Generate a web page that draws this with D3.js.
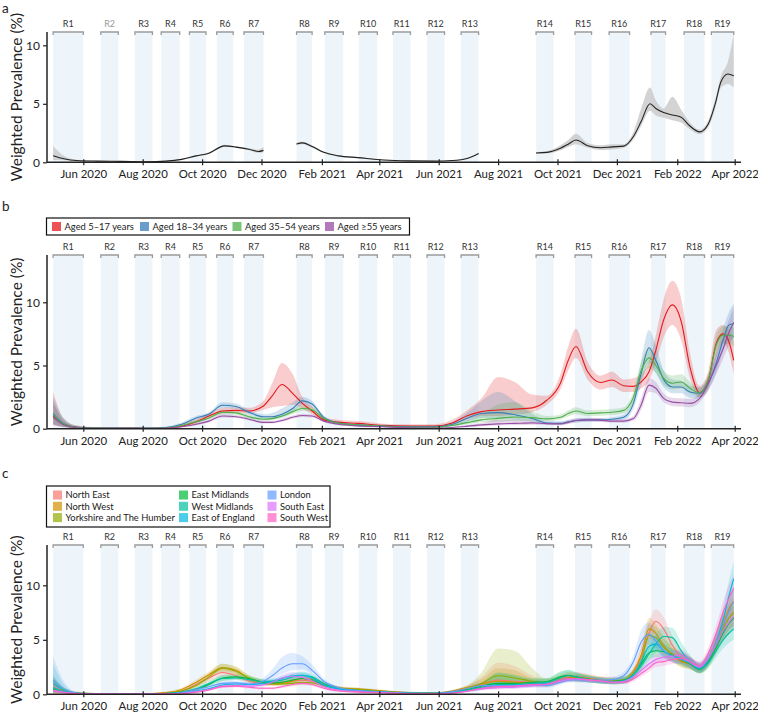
<!DOCTYPE html>
<html><head><meta charset="utf-8">
<script src="https://cdn.jsdelivr.net/npm/d3@7"></script>
<style>body{margin:0;background:#fff;font-family:Lato,"Liberation Sans",sans-serif;}</style>
</head><body>
<script>
// ---------- DATA ----------
const roundNames = ["R1","R2","R3","R4","R5","R6","R7","R8","R9","R10","R11","R12","R13","R14","R15","R16","R17","R18","R19"];
const roundStart = ["2020-05-01","2020-06-19","2020-07-24","2020-08-20","2020-09-18","2020-10-16","2020-11-13","2021-01-06","2021-02-04","2021-03-11","2021-04-15","2021-05-20","2021-06-24","2021-09-09","2021-10-19","2021-11-23","2022-01-05","2022-02-08","2022-03-08"];
const roundEnd   = ["2020-06-01","2020-07-07","2020-08-11","2020-09-08","2020-10-05","2020-11-02","2020-12-03","2021-01-22","2021-02-23","2021-03-30","2021-05-03","2021-06-07","2021-07-12","2021-09-27","2021-11-05","2021-12-14","2022-01-20","2022-03-01","2022-03-31"];
const xTickLabels = ["Jun 2020","Aug 2020","Oct 2020","Dec 2020","Feb 2021","Apr 2021","Jun 2021","Aug 2021","Oct 2021","Dec 2021","Feb 2022","Apr 2022"];
const yTicks = [0,5,10];

// Panel a (overall)
const aDates = ["2020-05-01","2020-05-12","2020-05-25","2020-06-15","2020-07-10","2020-08-05","2020-08-25","2020-09-10","2020-09-25","2020-10-08","2020-10-24","2020-11-05","2020-11-18","2020-11-28","2020-12-03","2020-12-20","2021-01-06","2021-01-12","2021-01-22","2021-02-03","2021-02-18","2021-03-10","2021-04-05","2021-05-01","2021-05-28","2021-06-15","2021-07-01","2021-07-12","2021-08-10","2021-09-09","2021-09-20","2021-10-04","2021-10-12","2021-10-20","2021-11-01","2021-11-14","2021-11-26","2021-12-08","2021-12-18","2021-12-26","2022-01-04","2022-01-10","2022-01-18","2022-01-27","2022-02-05","2022-02-14","2022-02-24","2022-03-05","2022-03-12","2022-03-18","2022-03-25","2022-03-31"];
const aMid = [0.56,0.3,0.15,0.1,0.08,0.05,0.1,0.25,0.55,0.78,1.4,1.3,1.12,0.92,1.02,null,1.56,1.66,1.35,0.85,0.55,0.4,0.2,0.12,0.1,0.15,0.35,0.75,null,0.8,0.85,1.2,1.55,1.9,1.42,1.25,1.32,1.38,2.2,3.5,5.0,4.6,4.25,4.05,3.85,3.1,2.6,3.3,5.0,6.9,7.55,7.4];
const aLo  = [0.2,0.18,0.1,0.06,0.05,0.03,0.07,0.2,0.48,0.7,1.3,1.22,1.02,0.8,0.85,null,1.45,1.55,1.25,0.78,0.5,0.35,0.17,0.09,0.08,0.12,0.3,0.68,null,0.72,0.75,1.0,1.3,1.55,1.25,1.05,1.1,1.22,1.95,3.1,4.4,4.0,3.8,3.6,3.4,2.8,2.4,3.0,4.6,6.4,6.7,6.4];
const aHi  = [1.4,0.55,0.22,0.14,0.1,0.07,0.13,0.3,0.62,0.86,1.5,1.38,1.22,1.08,1.32,null,1.68,1.78,1.46,0.92,0.6,0.45,0.24,0.15,0.12,0.18,0.4,0.82,null,0.88,0.95,1.45,1.9,2.45,1.65,1.45,1.55,1.55,2.6,4.6,6.4,5.3,4.6,5.6,4.5,3.4,2.8,3.6,5.4,7.4,8.6,11.0];

// Common grid for panels b and c
const gDates = ["2020-05-01","2020-05-12","2020-05-25","2020-06-15","2020-07-10","2020-08-05","2020-08-25","2020-09-10","2020-09-25","2020-10-08","2020-10-22","2020-11-05","2020-11-18","2020-12-03","2020-12-12","2020-12-22","2021-01-02","2021-01-12","2021-01-22","2021-02-03","2021-02-18","2021-03-10","2021-04-05","2021-05-01","2021-05-28","2021-06-15","2021-07-01","2021-07-15","2021-08-01","2021-08-18","2021-09-05","2021-09-20","2021-10-04","2021-10-12","2021-10-20","2021-11-01","2021-11-14","2021-11-26","2021-12-08","2021-12-18","2021-12-26","2022-01-03","2022-01-10","2022-01-18","2022-01-27","2022-02-05","2022-02-14","2022-02-24","2022-03-05","2022-03-13","2022-03-20","2022-03-26","2022-03-31"];

// Panel b (age groups)
const ageNames = ["Aged 5\u201317 years","Aged 18\u201334 years","Aged 35\u201354 years","Aged \u226555 years"];
const ageColors = ["#E41A1C","#377EB8","#4DAF4A","#984EA3"];
const age517Mid = [1.0,0.35,0.12,0.06,0.05,0.04,0.06,0.2,0.55,1.0,1.4,1.45,1.4,1.8,2.6,3.5,2.8,2.0,1.4,0.7,0.52,0.42,0.26,0.2,0.2,0.45,1.05,1.35,1.48,1.55,1.65,2.25,3.6,5.4,6.5,4.5,3.65,3.85,3.4,3.35,3.7,4.5,6.2,8.6,9.8,8.5,4.9,2.85,3.85,6.75,7.5,6.9,5.4];
const age517Lo  = [0.3,0.15,0.05,0.02,0.02,0.02,0.03,0.12,0.4,0.8,1.2,1.25,1.2,1.5,1.7,1.8,1.9,1.6,1.15,0.55,0.4,0.3,0.18,0.1,0.1,0.3,0.75,1.0,1.0,1.1,1.3,1.9,3.1,4.6,5.6,3.9,3.1,3.3,2.9,2.9,3.2,3.8,5.2,7.2,8.2,7.0,4.0,2.5,3.2,5.6,6.8,6.0,4.3];
const age517Hi  = [2.9,0.8,0.25,0.12,0.1,0.08,0.12,0.35,0.75,1.25,1.65,1.7,1.65,2.2,3.6,5.2,4.3,2.5,1.75,0.9,0.7,0.6,0.4,0.35,0.35,0.7,1.5,2.4,4.1,3.7,2.7,2.6,4.3,6.5,7.9,5.3,4.2,4.5,3.9,4.0,4.3,5.3,7.4,10.2,11.7,10.3,6.0,3.4,4.6,7.8,8.2,7.8,6.9];
const age1834Mid = [1.2,0.4,0.12,0.06,0.05,0.05,0.1,0.35,0.85,1.15,1.85,1.75,1.3,0.95,0.95,1.15,1.6,2.2,1.95,0.9,0.45,0.3,0.2,0.15,0.15,0.35,0.85,1.2,1.27,1.1,0.8,0.45,0.42,0.55,0.65,0.7,0.7,0.75,0.9,2.0,4.4,6.4,5.4,3.9,3.3,3.3,2.9,2.8,3.6,5.2,7.0,8.2,8.3];
const age1834Lo  = [0.4,0.15,0.05,0.02,0.02,0.02,0.05,0.25,0.7,1.0,1.65,1.55,1.15,0.8,0.75,0.9,1.3,1.9,1.7,0.75,0.35,0.22,0.14,0.08,0.08,0.22,0.6,0.85,0.8,0.7,0.55,0.32,0.3,0.42,0.5,0.55,0.55,0.6,0.72,1.6,3.5,5.2,4.4,3.3,2.8,2.8,2.45,2.4,3.0,4.4,6.1,7.0,7.1];
const age1834Hi  = [2.5,0.8,0.25,0.12,0.1,0.1,0.18,0.5,1.0,1.3,2.1,2.0,1.5,1.15,1.25,1.6,2.1,2.5,2.2,1.05,0.55,0.4,0.28,0.25,0.25,0.55,1.3,2.2,2.9,2.2,1.2,0.6,0.58,0.7,0.8,0.85,0.85,0.9,1.1,2.5,5.4,7.8,6.6,4.6,3.9,3.8,3.4,3.3,4.1,5.9,7.9,9.2,9.9];
const age3554Mid = [1.1,0.35,0.1,0.05,0.04,0.04,0.08,0.25,0.55,0.85,1.3,1.25,0.95,0.75,0.8,1.0,1.35,1.6,1.5,0.8,0.42,0.3,0.2,0.12,0.12,0.25,0.5,0.7,0.82,0.92,0.88,0.78,0.9,1.2,1.4,1.2,1.25,1.3,1.45,2.5,4.6,5.6,5.0,4.0,3.6,3.7,3.2,2.85,3.9,6.6,7.4,7.4,7.3];
const age3554Lo  = [0.35,0.12,0.04,0.02,0.02,0.02,0.04,0.18,0.45,0.72,1.15,1.1,0.82,0.63,0.67,0.85,1.15,1.4,1.32,0.68,0.34,0.22,0.14,0.08,0.08,0.17,0.38,0.52,0.55,0.6,0.62,0.6,0.72,0.98,1.15,0.98,1.02,1.08,1.22,2.1,3.9,4.8,4.4,3.5,3.1,3.2,2.8,2.5,3.4,5.9,6.7,6.7,6.5];
const age3554Hi  = [2.0,0.7,0.2,0.1,0.08,0.08,0.14,0.35,0.68,1.0,1.48,1.42,1.1,0.9,0.95,1.18,1.58,1.82,1.72,0.94,0.52,0.38,0.27,0.18,0.18,0.36,0.7,1.2,1.9,2.1,1.4,1.0,1.1,1.45,1.7,1.45,1.5,1.55,1.7,2.95,5.3,6.4,5.7,4.6,4.2,4.3,3.7,3.2,4.4,7.3,8.1,8.1,8.0];
const age55Mid = [0.9,0.3,0.08,0.04,0.03,0.03,0.05,0.15,0.35,0.6,1.0,0.95,0.75,0.5,0.5,0.65,0.9,1.05,1.0,0.6,0.35,0.22,0.15,0.08,0.06,0.1,0.2,0.3,0.38,0.42,0.46,0.4,0.38,0.5,0.65,0.7,0.68,0.6,0.6,0.8,1.9,3.45,3.2,2.4,2.1,2.05,2.0,2.4,3.6,5.0,6.3,7.6,8.4];
const age55Lo  = [0.3,0.1,0.03,0.01,0.01,0.01,0.02,0.1,0.28,0.5,0.88,0.84,0.65,0.42,0.42,0.55,0.78,0.93,0.88,0.52,0.28,0.17,0.1,0.05,0.04,0.06,0.14,0.2,0.26,0.28,0.32,0.3,0.28,0.38,0.5,0.56,0.55,0.48,0.48,0.62,1.5,2.9,2.8,2.1,1.8,1.75,1.7,2.1,3.1,4.3,5.5,6.6,7.2];
const age55Hi  = [2.2,0.6,0.16,0.08,0.06,0.06,0.1,0.22,0.45,0.72,1.14,1.08,0.87,0.6,0.6,0.78,1.04,1.18,1.14,0.7,0.44,0.3,0.22,0.14,0.12,0.16,0.3,0.45,0.7,0.7,0.65,0.52,0.5,0.64,0.82,0.86,0.83,0.74,0.74,1.0,2.4,4.0,3.7,2.8,2.45,2.4,2.35,2.8,4.2,5.8,7.2,8.6,9.6];

// Panel c (regions)
const regionNames = ["North East","North West","Yorkshire and The Humber","East Midlands","West Midlands","East of England","London","South East","South West"];
const regionColors = ["#F8766D","#D39200","#93AA00","#00BA38","#00C19F","#00B9E3","#619CFF","#DB72FB","#FF61C3"];
const neMid = [0.5,0.25,0.1,0.06,0.05,0.05,0.1,0.3,0.9,1.5,2.0,1.7,1.2,1.0,1.0,1.1,1.2,1.3,1.2,0.85,0.55,0.4,0.25,0.12,0.1,0.2,0.5,0.9,1.3,1.2,1.1,1.0,1.4,1.6,1.6,1.5,1.3,1.25,1.3,1.9,3.5,5.6,6.7,6.0,4.5,3.4,2.9,2.4,3.3,4.8,6.2,7.0,7.5];
const neLo  = [0.1,0.1,0.04,0.02,0.02,0.02,0.04,0.18,0.7,1.2,1.65,1.4,0.95,0.8,0.78,0.85,0.95,1.05,0.95,0.65,0.4,0.28,0.16,0.06,0.05,0.1,0.32,0.6,0.85,0.8,0.75,0.72,1.05,1.2,1.2,1.15,1.0,0.95,1.0,1.45,2.8,4.6,5.7,5.0,3.7,2.8,2.4,2.0,2.7,4.0,5.2,5.9,6.3];
const neHi  = [1.5,0.6,0.22,0.12,0.1,0.1,0.2,0.45,1.15,1.85,2.4,2.05,1.5,1.25,1.25,1.4,1.5,1.6,1.5,1.1,0.72,0.56,0.38,0.24,0.2,0.34,0.75,1.6,2.9,2.6,1.7,1.35,1.8,2.05,2.05,1.9,1.65,1.6,1.65,2.4,4.3,6.7,7.8,7.1,5.4,4.1,3.5,2.9,3.9,5.7,7.3,8.2,8.8];
const nwMid = [0.6,0.3,0.12,0.07,0.05,0.05,0.15,0.45,1.1,1.8,2.45,2.2,1.45,1.0,0.95,1.0,1.2,1.45,1.4,0.95,0.6,0.5,0.3,0.15,0.12,0.3,0.65,0.95,1.2,1.1,1.0,0.95,1.3,1.5,1.55,1.45,1.3,1.2,1.3,2.1,3.6,6.0,5.6,4.5,3.6,3.0,2.8,2.3,3.2,4.9,6.5,7.8,8.5];
const nwLo  = [0.2,0.12,0.05,0.03,0.02,0.02,0.08,0.32,0.9,1.55,2.15,1.9,1.25,0.85,0.8,0.85,1.0,1.25,1.2,0.8,0.5,0.4,0.22,0.1,0.08,0.2,0.5,0.75,0.95,0.88,0.82,0.78,1.1,1.28,1.32,1.22,1.1,1.0,1.1,1.75,3.0,5.1,4.8,3.8,3.0,2.5,2.3,1.95,2.7,4.2,5.6,6.7,7.2];
const nwHi  = [1.6,0.6,0.25,0.13,0.1,0.1,0.25,0.6,1.35,2.1,2.8,2.55,1.7,1.2,1.12,1.2,1.45,1.7,1.65,1.12,0.75,0.62,0.4,0.24,0.2,0.42,0.85,1.4,2.4,2.2,1.45,1.15,1.55,1.75,1.8,1.7,1.52,1.42,1.52,2.5,4.3,7.0,6.5,5.3,4.3,3.6,3.3,2.7,3.8,5.7,7.5,9.0,10.0];
const yhMid = [0.4,0.2,0.1,0.06,0.05,0.05,0.1,0.3,0.8,1.6,2.4,2.1,1.5,1.1,1.0,0.95,1.0,1.1,1.05,0.8,0.55,0.45,0.28,0.13,0.1,0.22,0.55,1.0,1.7,1.5,1.2,1.0,1.3,1.5,1.5,1.4,1.25,1.2,1.25,1.9,3.0,5.4,5.2,4.3,3.7,3.1,2.8,2.3,3.1,4.6,6.0,7.0,7.5];
const yhLo  = [0.08,0.08,0.04,0.02,0.02,0.02,0.04,0.18,0.6,1.3,2.05,1.8,1.25,0.9,0.8,0.76,0.8,0.88,0.84,0.62,0.4,0.32,0.18,0.06,0.05,0.12,0.35,0.6,0.9,0.8,0.75,0.7,1.0,1.18,1.18,1.1,0.98,0.94,0.98,1.5,2.4,4.5,4.3,3.5,3.0,2.5,2.3,1.9,2.5,3.8,5.0,5.9,6.2];
const yhHi  = [1.3,0.5,0.2,0.12,0.1,0.1,0.2,0.45,1.05,1.95,2.8,2.45,1.8,1.35,1.25,1.18,1.25,1.35,1.3,1.02,0.72,0.6,0.4,0.24,0.2,0.38,0.85,2.0,4.2,4.0,2.4,1.45,1.7,1.9,1.9,1.78,1.6,1.52,1.58,2.4,3.7,6.4,6.2,5.1,4.5,3.8,3.4,2.8,3.8,5.5,7.2,8.3,9.0];
const emMid = [0.5,0.25,0.08,0.05,0.04,0.04,0.08,0.2,0.45,0.9,1.5,1.6,1.45,1.1,1.05,1.1,1.3,1.45,1.3,0.85,0.5,0.35,0.22,0.12,0.1,0.2,0.45,0.75,1.0,1.0,1.1,1.15,1.6,1.75,1.6,1.4,1.25,1.2,1.3,1.8,2.8,3.8,4.0,3.9,3.6,3.2,2.8,2.3,3.0,4.3,5.6,6.5,7.0];
const emLo  = [0.15,0.1,0.03,0.02,0.02,0.02,0.03,0.12,0.32,0.72,1.25,1.35,1.22,0.9,0.85,0.9,1.08,1.22,1.08,0.68,0.38,0.25,0.14,0.06,0.05,0.12,0.3,0.5,0.65,0.68,0.8,0.88,1.25,1.35,1.25,1.1,0.98,0.95,1.02,1.45,2.3,3.2,3.4,3.3,3.05,2.7,2.35,1.95,2.55,3.7,4.8,5.5,5.9];
const emHi  = [1.5,0.6,0.18,0.1,0.08,0.08,0.15,0.32,0.6,1.1,1.78,1.88,1.7,1.32,1.28,1.32,1.55,1.7,1.55,1.05,0.65,0.48,0.32,0.22,0.18,0.32,0.65,1.1,2.0,1.8,1.5,1.5,2.1,2.2,2.0,1.75,1.55,1.48,1.6,2.2,3.4,4.5,4.7,4.6,4.25,3.75,3.3,2.7,3.5,5.0,6.5,7.6,8.2];
const wmMid = [1.0,0.4,0.1,0.05,0.04,0.04,0.08,0.2,0.5,1.0,1.45,1.5,1.35,1.15,1.2,1.3,1.6,1.75,1.6,1.0,0.55,0.35,0.22,0.12,0.1,0.2,0.4,0.65,0.9,0.9,1.0,1.1,1.5,1.7,1.6,1.4,1.25,1.15,1.25,1.8,2.6,3.7,4.6,5.3,5.2,4.0,3.0,2.3,2.9,4.0,5.0,5.6,6.0];
const wmLo  = [0.3,0.15,0.04,0.02,0.02,0.02,0.03,0.12,0.36,0.8,1.22,1.28,1.14,0.95,1.0,1.08,1.35,1.5,1.35,0.82,0.42,0.25,0.14,0.06,0.05,0.12,0.26,0.45,0.62,0.65,0.75,0.85,1.15,1.3,1.22,1.1,0.98,0.9,0.98,1.45,2.1,3.0,3.8,4.5,4.4,3.3,2.5,1.9,2.4,3.4,4.2,4.7,5.0];
const wmHi  = [2.8,0.9,0.2,0.1,0.08,0.08,0.15,0.32,0.65,1.22,1.7,1.75,1.58,1.38,1.42,1.55,1.88,2.02,1.86,1.2,0.7,0.47,0.32,0.22,0.18,0.3,0.58,0.95,1.9,1.7,1.35,1.42,2.0,2.25,2.05,1.75,1.55,1.42,1.55,2.2,3.2,4.5,5.5,6.2,6.1,4.8,3.6,2.75,3.4,4.7,5.9,6.6,7.2];
const eeMid = [0.6,0.25,0.08,0.05,0.04,0.04,0.06,0.1,0.3,0.5,0.85,0.95,0.9,1.0,1.2,1.45,1.7,1.75,1.5,0.85,0.5,0.3,0.2,0.1,0.08,0.15,0.35,0.55,0.8,0.85,0.95,1.0,1.3,1.45,1.45,1.35,1.2,1.1,1.2,1.8,3.0,4.4,4.6,4.0,3.5,3.3,2.9,2.4,3.2,4.8,6.8,9.0,10.6];
const eeLo  = [0.15,0.1,0.03,0.02,0.02,0.02,0.03,0.05,0.2,0.38,0.7,0.8,0.76,0.85,1.02,1.24,1.45,1.5,1.28,0.7,0.38,0.22,0.13,0.05,0.04,0.08,0.24,0.4,0.58,0.63,0.72,0.78,1.05,1.18,1.18,1.1,0.98,0.9,0.98,1.48,2.5,3.7,3.9,3.4,2.95,2.8,2.45,2.0,2.7,4.1,5.8,7.7,9.0];
const eeHi  = [1.8,0.6,0.18,0.1,0.08,0.08,0.12,0.18,0.42,0.64,1.02,1.12,1.06,1.18,1.4,1.7,1.98,2.02,1.75,1.02,0.64,0.42,0.3,0.2,0.16,0.25,0.5,0.75,1.1,1.12,1.22,1.25,1.6,1.78,1.75,1.62,1.45,1.32,1.45,2.15,3.6,5.2,5.4,4.7,4.1,3.9,3.4,2.85,3.8,5.6,7.9,10.4,12.2];
const lonMid = [1.3,0.5,0.12,0.06,0.05,0.05,0.08,0.15,0.45,0.7,1.0,1.05,0.95,1.2,1.7,2.4,2.8,2.8,2.2,1.2,0.6,0.35,0.22,0.12,0.1,0.25,0.55,0.8,0.8,0.8,0.85,0.8,1.1,1.3,1.35,1.3,1.3,1.35,1.7,3.0,4.8,5.5,4.9,4.0,3.5,3.2,2.9,2.5,3.3,4.8,6.3,7.6,8.5];
const lonLo  = [0.2,0.15,0.04,0.02,0.02,0.02,0.04,0.08,0.32,0.55,0.85,0.9,0.8,1.0,1.35,1.85,2.2,2.3,1.85,1.0,0.48,0.26,0.15,0.06,0.05,0.15,0.38,0.58,0.56,0.56,0.62,0.6,0.88,1.05,1.1,1.05,1.05,1.1,1.4,2.5,4.0,4.6,4.1,3.35,2.9,2.7,2.45,2.1,2.8,4.1,5.4,6.5,7.2];
const lonHi  = [3.5,1.2,0.25,0.12,0.1,0.1,0.15,0.25,0.6,0.85,1.18,1.22,1.12,1.5,2.3,3.4,3.8,3.5,2.7,1.45,0.75,0.46,0.3,0.2,0.17,0.38,0.75,1.05,1.1,1.08,1.12,1.05,1.35,1.58,1.62,1.58,1.58,1.62,2.05,3.6,5.9,6.6,5.8,4.7,4.15,3.75,3.4,2.95,3.9,5.6,7.3,8.8,9.9];
const seMid = [0.4,0.2,0.07,0.04,0.03,0.03,0.05,0.1,0.25,0.45,0.75,0.8,0.75,0.85,1.1,1.5,1.65,1.55,1.25,0.7,0.4,0.25,0.15,0.08,0.06,0.12,0.3,0.5,0.6,0.65,0.8,0.9,1.2,1.35,1.4,1.3,1.2,1.1,1.2,1.6,2.2,2.8,3.2,3.4,3.5,3.6,3.0,2.5,3.3,4.6,5.8,6.6,7.1];
const seLo  = [0.1,0.08,0.03,0.01,0.01,0.01,0.02,0.05,0.16,0.35,0.63,0.68,0.64,0.72,0.92,1.25,1.38,1.3,1.05,0.58,0.32,0.18,0.1,0.04,0.03,0.06,0.2,0.36,0.44,0.48,0.62,0.72,1.0,1.15,1.2,1.12,1.02,0.94,1.02,1.36,1.9,2.45,2.8,3.0,3.1,3.15,2.6,2.15,2.85,4.0,5.1,5.8,6.2];
const seHi  = [1.2,0.5,0.15,0.08,0.06,0.06,0.1,0.18,0.36,0.56,0.88,0.94,0.88,1.0,1.3,1.8,2.05,1.85,1.5,0.85,0.5,0.34,0.22,0.15,0.12,0.2,0.42,0.68,0.82,0.85,1.0,1.1,1.42,1.58,1.62,1.5,1.4,1.28,1.4,1.85,2.55,3.2,3.65,3.85,3.95,4.1,3.45,2.9,3.8,5.3,6.6,7.5,8.1];
const swMid = [0.3,0.15,0.05,0.03,0.03,0.03,0.04,0.05,0.2,0.4,0.7,0.75,0.65,0.55,0.55,0.7,0.9,1.0,0.9,0.55,0.3,0.2,0.12,0.06,0.05,0.1,0.3,0.55,0.7,0.75,0.9,0.95,1.3,1.45,1.45,1.35,1.25,1.1,1.1,1.4,1.9,2.4,2.9,3.0,3.2,3.3,3.0,2.6,3.8,5.6,7.5,8.8,9.7];
const swLo  = [0.05,0.05,0.02,0.01,0.01,0.01,0.02,0.02,0.12,0.3,0.58,0.62,0.53,0.45,0.45,0.57,0.75,0.84,0.75,0.45,0.22,0.14,0.08,0.03,0.02,0.05,0.2,0.4,0.52,0.56,0.7,0.76,1.08,1.22,1.22,1.14,1.05,0.92,0.92,1.18,1.6,2.05,2.5,2.6,2.78,2.85,2.6,2.25,3.3,4.9,6.6,7.8,8.6];
const swHi  = [1.0,0.4,0.12,0.07,0.06,0.06,0.08,0.1,0.3,0.52,0.84,0.9,0.78,0.66,0.66,0.84,1.06,1.17,1.06,0.66,0.4,0.28,0.18,0.12,0.1,0.16,0.42,0.72,0.9,0.95,1.12,1.16,1.55,1.7,1.7,1.58,1.47,1.3,1.3,1.65,2.22,2.8,3.35,3.45,3.65,3.8,3.45,3.0,4.35,6.35,8.5,10.0,11.0];

// ---------- BUILD ----------
const FONT = "Lato, 'Liberation Sans', sans-serif";
const parse = d3.utcParse("%Y-%m-%d");
const parseTick = d3.utcParse("%b %Y");
const W = 758, H = 714;
const svg = d3.select("body").append("svg").attr("width", W).attr("height", H)
  .style("font-family", FONT);

const x = d3.scaleUtc().domain([parse("2020-06-01"), parse("2022-04-01")]).range([83.3, 734.7]);
const AX_LEFT = 47, AX_RIGHT = 741;
const xTicks = xTickLabels.map(parseTick);

const panels = [
  {key:"a", label:"a", top:32, y0:162.3, y10:45.3, dmax:11, labelY:13},
  {key:"b", label:"b", top:255, y0:428.7, y10:302.3, dmax:13.7, labelY:211},
  {key:"c", label:"c", top:545, y0:694.3, y10:585.3, dmax:13.7, labelY:478}
];

const ageSeries = [
  {mid:age517Mid, lo:age517Lo, hi:age517Hi},
  {mid:age1834Mid, lo:age1834Lo, hi:age1834Hi},
  {mid:age3554Mid, lo:age3554Lo, hi:age3554Hi},
  {mid:age55Mid, lo:age55Lo, hi:age55Hi}
].map((s,i)=>({...s, color:ageColors[i], name:ageNames[i]}));

const regionSeries = [
  {mid:neMid, lo:neLo, hi:neHi},{mid:nwMid, lo:nwLo, hi:nwHi},{mid:yhMid, lo:yhLo, hi:yhHi},
  {mid:emMid, lo:emLo, hi:emHi},{mid:wmMid, lo:wmLo, hi:wmHi},{mid:eeMid, lo:eeLo, hi:eeHi},
  {mid:lonMid, lo:lonLo, hi:lonHi},{mid:seMid, lo:seLo, hi:seHi},{mid:swMid, lo:swLo, hi:swHi}
].map((s,i)=>({...s, color:regionColors[i], name:regionNames[i]}));

function toPts(dates, s){
  return dates.map((d,i)=>({t:parse(d), m:s.mid[i], lo:s.lo[i], hi:s.hi[i]}));
}

panels.forEach(p=>{
  const y = d3.scaleLinear().domain([0,10]).range([p.y0, p.y10]);
  const g = svg.append("g");

  roundNames.forEach((r,i)=>{
    const x1 = x(parse(roundStart[i])), x2 = x(parse(roundEnd[i]));
    g.append("rect").attr("x",x1).attr("y",p.top).attr("width",x2-x1).attr("height",p.y0-p.top)
      .attr("fill","#eef5fa");
    g.append("path").attr("d",`M${x1},${p.top+3}V${p.top}H${x2}V${p.top+3}`)
      .attr("fill","none").attr("stroke","#9a9a9a").attr("stroke-width",1.3);
    g.append("text").attr("x",(x1+x2)/2).attr("y",p.top-5).attr("text-anchor","middle")
      .attr("font-size",9).attr("fill",(p.key==="a"&&r==="R2")?"#999":"#333").text(r);
  });

  const clipId = "clip"+p.key;
  svg.append("clipPath").attr("id",clipId).append("rect")
    .attr("x",AX_LEFT).attr("y",p.top).attr("width",AX_RIGHT-AX_LEFT).attr("height",p.y0-p.top);
  const dg = g.append("g").attr("clip-path",`url(#${clipId})`);

  const area = d3.area().defined(d=>d.lo!=null).x(d=>x(d.t)).y0(d=>y(d.lo)).y1(d=>y(d.hi)).curve(d3.curveMonotoneX);
  const line = d3.line().defined(d=>d.m!=null).x(d=>x(d.t)).y(d=>y(d.m)).curve(d3.curveMonotoneX);

  if(p.key==="a"){
    const pts = toPts(aDates,{mid:aMid,lo:aLo,hi:aHi});
    dg.append("path").attr("d",area(pts)).attr("fill","#c8c8c8").attr("opacity",0.8);
    dg.append("path").attr("d",line(pts)).attr("fill","none").attr("stroke","#222").attr("stroke-width",1.1);
  } else {
    const series = p.key==="b" ? ageSeries : regionSeries;
    const bandOp = p.key==="b" ? 0.22 : 0.2;
    series.forEach(s=>{
      dg.append("path").attr("d",area(toPts(gDates,s))).attr("fill",s.color).attr("opacity",bandOp);
    });
    series.forEach(s=>{
      dg.append("path").attr("d",line(toPts(gDates,s))).attr("fill","none").attr("stroke",s.color).attr("stroke-width",1.1);
    });
  }

  g.append("line").attr("x1",AX_LEFT).attr("x2",AX_LEFT).attr("y1",p.top).attr("y2",p.y0)
    .attr("stroke","#222").attr("stroke-width",1.5);
  g.append("line").attr("x1",AX_LEFT).attr("x2",AX_RIGHT).attr("y1",p.y0).attr("y2",p.y0)
    .attr("stroke","#222").attr("stroke-width",1.5);

  const ya = d3.axisLeft(y).tickValues(yTicks).tickSize(4).tickPadding(3);
  const yg = g.append("g").attr("transform",`translate(${AX_LEFT},0)`).call(ya);
  yg.select(".domain").remove();
  yg.selectAll("text").attr("font-size",12).attr("fill","#222").style("font-family",FONT);
  yg.selectAll("line").attr("stroke","#222").attr("stroke-width",1.2);

  const xa = d3.axisBottom(x).tickValues(xTicks).tickFormat(d3.utcFormat("%b %Y")).tickSize(3).tickPadding(5);
  const xg = g.append("g").attr("transform",`translate(0,${p.y0})`).call(xa);
  xg.select(".domain").remove();
  xg.selectAll("line").attr("y1",-3).attr("y2",3).attr("stroke","#222").attr("stroke-width",1.2);
  xg.selectAll("text").attr("font-size",11.4).attr("fill","#222").style("font-family",FONT);

  g.append("text").attr("transform",`translate(22,${(p.top+p.y0)/2}) rotate(-90)`)
    .attr("text-anchor","middle").attr("font-size",15.5).attr("fill","#222").text("Weighted Prevalence (%)");

  svg.append("text").attr("x",2).attr("y",p.labelY).attr("font-size",13.5).attr("fill","#222").text(p.label);
});

// Legend b
{
  const lg = svg.append("g");
  lg.append("rect").attr("x",46.5).attr("y",218).attr("width",363).attr("height",17)
    .attr("fill","#fff").attr("stroke","#111").attr("stroke-width",1.2);
  const xs = [52,140,232.5,325];
  ageSeries.forEach((s,i)=>{
    lg.append("rect").attr("x",xs[i]).attr("y",222).attr("width",9).attr("height",9).attr("fill",s.color).attr("opacity",0.75);
    lg.append("text").attr("x",xs[i]+12.5).attr("y",230).attr("font-size",9.4).attr("fill","#222").text(s.name);
  });
}
// Legend c
{
  const lg = svg.append("g");
  lg.append("rect").attr("x",46.5).attr("y",486).attr("width",283.5).attr("height",41)
    .attr("fill","#fff").attr("stroke","#111").attr("stroke-width",1.2);
  const colX = [53,179,267.5];
  const rowY = [495,506.3,517.6];
  regionSeries.forEach((s,i)=>{
    const c = Math.floor(i/3), r = i%3;
    lg.append("rect").attr("x",colX[c]).attr("y",rowY[r]-4.5).attr("width",9).attr("height",9).attr("fill",s.color).attr("opacity",0.7);
    lg.append("text").attr("x",colX[c]+12.5).attr("y",rowY[r]+3.4).attr("font-size",9.4).attr("fill","#222").text(s.name);
  });
}
</script>
</body></html>
